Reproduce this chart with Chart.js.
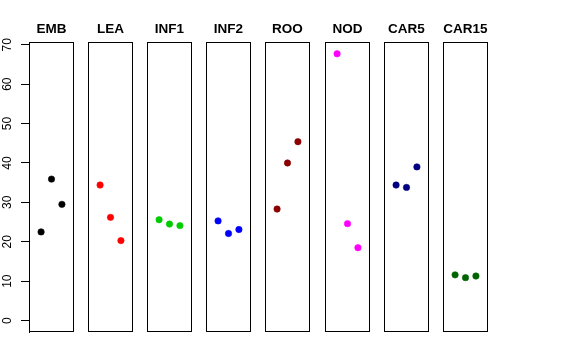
<!DOCTYPE html>
<html>
<head>
<meta charset="utf-8">
<script src="https://cdn.jsdelivr.net/npm/chart.js@4"></script>
<style>
html,body{margin:0;padding:0;background:#fff;}
#wrap{position:relative;width:576px;height:360px;overflow:hidden;background:#fff;}
#wrap canvas{position:absolute;top:0;}
</style>
</head>
<body>
<div id="wrap"></div>
<script>
// ---- data ----
const categories = ['EMB','LEA','INF1','INF2','ROO','NOD','CAR5','CAR15'];
const replicates = [1, 2, 3];
const embValues   = [22.5, 35.9, 29.5];
const leaValues   = [34.4, 26.2, 20.3];
const inf1Values  = [25.6, 24.5, 24.1];
const inf2Values  = [25.3, 22.1, 23.1];
const rooValues   = [28.3, 40.0, 45.4];
const nodValues   = [67.7, 24.6, 18.5];
const car5Values  = [34.4, 33.8, 39.0];
const car15Values = [11.6, 10.9, 11.3];
const yTickLabels = [0, 10, 20, 30, 40, 50, 60, 70];

// ---- styling / layout ----
const seriesValues = [embValues, leaValues, inf1Values, inf2Values, rooValues, nodValues, car5Values, car15Values];
const colors = ['#000000','#FF0000','#00CD00','#0000FF','#8B0000','#FF00FF','#000080','#006400'];
const panelLefts = [29, 88, 147, 206, 265, 325, 384, 443];
const panelWidth = 45;
const axisWidth = 29;
const H = 360;
const areaTop = 42, areaBottom = 332;
const FONT = 'Liberation Sans, Arial, sans-serif';

const boxPlugin = {
  id: 'panelBox',
  afterDraw(chart) {
    const a = chart.chartArea, ctx = chart.ctx;
    ctx.save();
    ctx.strokeStyle = '#000';
    ctx.lineWidth = 1;
    ctx.strokeRect(Math.round(a.left) + 0.5, Math.round(a.top) + 0.5,
                   Math.round(a.right - a.left) - 1, Math.round(a.bottom - a.top) - 1);
    ctx.restore();
  }
};

// rotated (bottom-to-top) y tick labels, placed with the y scale
const yLabelPlugin = {
  id: 'yLabels',
  afterDraw(chart) {
    const s = chart.scales.y;
    if (!s || !s.options.display) return;
    const ctx = chart.ctx;
    ctx.save();
    ctx.fillStyle = '#000';
    ctx.font = '12px ' + FONT;
    ctx.textAlign = 'center';
    ctx.textBaseline = 'middle';
    yTickLabels.forEach(v => {
      const y = s.getPixelForValue(v);
      ctx.save();
      ctx.translate(8, y);
      ctx.rotate(-Math.PI / 2);
      ctx.fillText(String(v), 0, 0);
      ctx.restore();
    });
    ctx.restore();
  }
};

const wrap = document.getElementById('wrap');
categories.forEach((cat, i) => {
  const first = i === 0;
  const cv = document.createElement('canvas');
  const w = first ? axisWidth + panelWidth : panelWidth;
  const left = first ? 0 : panelLefts[i];
  cv.width = w; cv.height = H;
  cv.style.left = left + 'px';
  cv.style.width = w + 'px'; cv.style.height = H + 'px';
  wrap.appendChild(cv);

  const yScale = {
    type: 'linear',
    display: first,
    position: 'left',
    min: -2.9, max: 70.7,
    afterBuildTicks: s => { s.ticks = yTickLabels.map(v => ({value: v})); },
    grid: { drawOnChartArea: false, drawTicks: true, tickLength: 8, tickColor: '#000', color: '#000' },
    border: { display: true, color: '#000', width: 1 },
    ticks: { display: false }
  };
  if (first) {
    yScale.afterFit = s => { s.width = axisWidth; s.paddingTop = 0; s.paddingBottom = 0; s.paddingLeft = 0; s.paddingRight = 0; };
  }

  new Chart(cv, {
    type: 'scatter',
    data: {
      datasets: [{
        data: replicates.map((r, j) => ({x: r, y: seriesValues[i][j]})),
        backgroundColor: colors[i],
        borderColor: colors[i],
        pointRadius: 3.2,
        pointBorderWidth: 0.6,
        pointHoverRadius: 3.2
      }]
    },
    options: {
      responsive: false,
      animation: false,
      devicePixelRatio: 1,
      events: [],
      layout: { autoPadding: false, padding: { left: 0, right: 0, top: 0, bottom: H - areaBottom } },
      plugins: {
        legend: { display: false },
        tooltip: { enabled: false },
        title: {
          display: true,
          text: cat,
          fullSize: false,
          color: '#000',
          font: { family: FONT, size: 13.5, weight: 'bold', lineHeight: 1.2 },
          padding: { top: 21.4, bottom: areaTop - 21.4 - 16.2 }
        }
      },
      scales: {
        x: { type: 'linear', display: false, min: -0.16, max: 4.16 },
        y: yScale
      }
    },
    plugins: [boxPlugin, yLabelPlugin]
  });
});
</script>
</body>
</html>
